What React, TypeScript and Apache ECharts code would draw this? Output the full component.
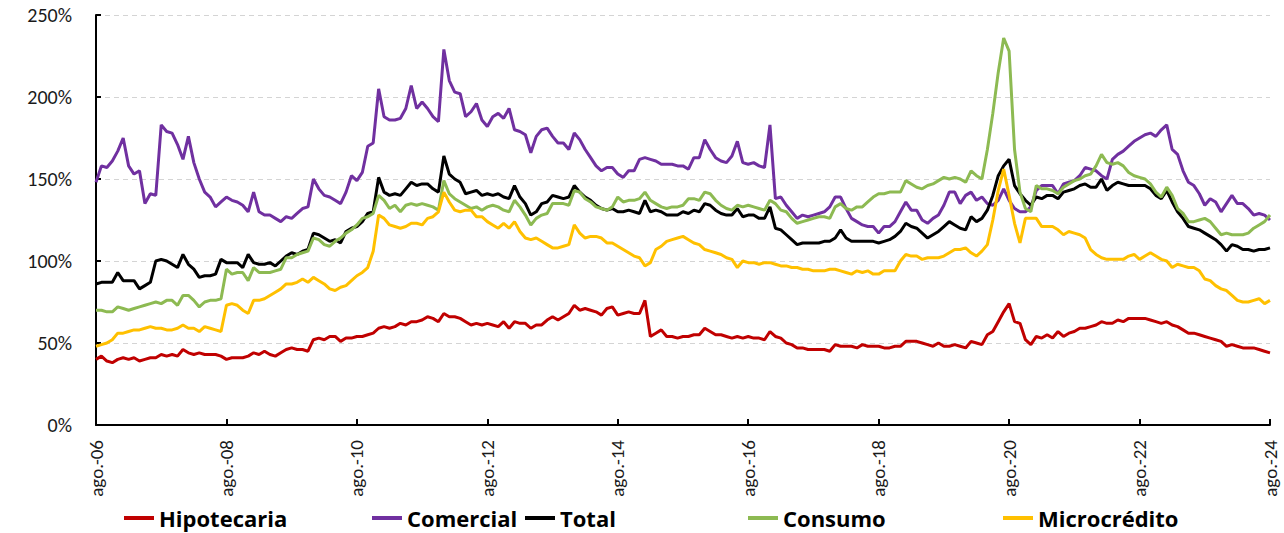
import React, { useEffect, useRef } from "react";
import * as echarts from "echarts";

const MONTHS = ["ene.", "feb.", "mar.", "abr.", "may.", "jun.", "jul.", "ago.", "sep.", "oct.", "nov.", "dic."];
const START_YEAR = 2006;
const START_MONTH = 7; // ago.
const N_MONTHS = 217;

const categories: string[] = [];
for (let i = 0; i < N_MONTHS; i++) {
  const m = (START_MONTH + i) % 12;
  const y = START_YEAR + Math.floor((START_MONTH + i) / 12);
  categories.push(`${MONTHS[m]}-${String(y % 100).padStart(2, "0")}`);
}

const seriesNames = ["Hipotecaria", "Comercial", "Total", "Consumo", "Microcrédito"];
const seriesColors = ["#C00000", "#7030A0", "#000000", "#8DBA52", "#FFC000"];

const hipotecaria = [
  40, 42, 39, 38, 40, 41, 40, 41, 39, 40, 41, 41, 43, 42, 43, 42, 46, 44, 43, 44, 43, 43, 43, 42, 40, 41, 41, 41, 42, 44, 43, 45, 43, 42, 44, 46,
  47, 46, 46, 45, 52, 53, 52, 54, 54, 51, 53, 53, 54, 54, 55, 56, 59, 60, 59, 60, 62, 61, 63, 63, 64, 66, 65, 63, 68, 66, 66, 65, 63, 61, 62,
  61, 62, 61, 60, 63, 59, 63, 62, 62, 59, 61, 61, 64, 66, 64, 66, 68, 73, 70, 71, 70, 69, 67, 71, 72, 67, 68, 69, 68, 68, 76, 54, 56, 58, 54,
  54, 53, 54, 54, 55, 55, 59, 57, 55, 55, 54, 53, 54, 53, 54, 53, 53, 52, 57, 54, 53, 50, 49, 47, 47, 46, 46, 46, 46, 45, 49, 48, 48, 48, 47,
  49, 48, 48, 48, 47, 47, 48, 48, 51, 51, 51, 50, 49, 48, 50, 48, 48, 49, 48, 47, 51, 50, 49, 55, 57, 63, 69, 74, 63, 62, 52, 49, 54, 53, 55,
  53, 57, 54, 56, 57, 59, 59, 60, 61, 63, 62, 62, 64, 63, 65, 65, 65, 65, 64, 63, 62, 63, 61, 60, 58, 56, 56, 55, 54, 53, 52, 51, 48, 49, 48, 47, 47, 47, 46, 45, 44,
];

const comercial = [
  148, 158, 157, 161, 167, 175, 158, 153, 155, 135, 141, 140, 183, 179, 178, 171, 162, 176, 160, 150, 142, 139, 133, 136, 139, 137, 136, 134, 130, 142, 130, 128, 128, 126, 124, 127,
  126, 129, 132, 133, 150, 144, 140, 139, 137, 135, 142, 152, 149, 154, 170, 172, 205, 188, 186, 186, 187, 193, 207, 193, 197, 193, 188, 185, 229, 210, 203, 202, 188, 191, 196,
  186, 182, 188, 190, 187, 193, 180, 179, 177, 166, 176, 180, 181, 176, 172, 172, 168, 178, 174, 168, 163, 158, 155, 157, 157, 153, 151, 155, 155, 162, 163, 162, 161, 159, 159,
  159, 158, 158, 156, 163, 163, 174, 168, 163, 161, 160, 164, 173, 160, 159, 160, 158, 157, 183, 138, 139, 134, 130, 126, 128, 127, 128, 129, 130, 133, 139, 139, 132, 126, 124,
  122, 121, 121, 117, 121, 121, 124, 130, 136, 131, 131, 125, 123, 126, 128, 134, 142, 142, 135, 140, 142, 137, 139, 135, 134, 137, 144, 137, 132, 130, 130, 133, 143, 146, 146,
  146, 141, 147, 148, 149, 152, 157, 156, 155, 152, 150, 162, 165, 167, 170, 173, 175, 177, 178, 176, 180, 183, 168, 165, 155, 148, 146, 141, 134, 138, 136, 130, 135, 140, 135, 135, 132, 128, 129, 128, 125,
];

const total = [
  86, 87, 87, 87, 93, 88, 88, 88, 83, 85, 87, 100, 101, 100, 98, 96, 104, 98, 95, 90, 91, 91, 92, 101, 99, 99, 99, 96, 104, 99, 98, 98, 99, 97, 100, 103,
  105, 104, 106, 107, 117, 116, 114, 112, 113, 111, 118, 120, 121, 124, 129, 130, 151, 142, 140, 141, 140, 144, 148, 146, 147, 147, 144, 142, 164, 153, 150, 148, 141, 142, 143,
  140, 141, 140, 141, 139, 138, 146, 139, 135, 128, 130, 135, 136, 140, 139, 138, 139, 146, 142, 139, 137, 134, 132, 131, 132, 130, 130, 131, 130, 129, 137, 130, 131, 130, 128,
  128, 128, 130, 129, 131, 130, 135, 134, 131, 129, 128, 128, 132, 127, 128, 128, 126, 126, 133, 120, 119, 116, 113, 110, 111, 111, 111, 111, 112, 112, 114, 119, 114, 112, 112,
  112, 112, 112, 111, 112, 113, 115, 118, 123, 121, 120, 117, 114, 116, 118, 121, 124, 122, 120, 119, 127, 124, 126, 131, 140, 152, 158, 162, 146, 141, 137, 134, 139, 138, 140,
  140, 138, 142, 143, 144, 146, 147, 145, 145, 150, 143, 146, 148, 147, 146, 146, 146, 146, 144, 140, 138, 143, 136, 130, 126, 121, 120, 119, 117, 115, 113, 110, 106, 110, 109, 107, 107, 106, 107, 107, 108,
];

const consumo = [
  70, 70, 69, 69, 72, 71, 70, 71, 72, 73, 74, 75, 74, 76, 76, 73, 79, 79, 76, 72, 75, 76, 76, 77, 95, 92, 93, 93, 88, 96, 93, 93, 93, 94, 95, 102,
  102, 104, 105, 106, 114, 113, 110, 109, 112, 114, 117, 119, 122, 126, 127, 129, 140, 137, 132, 134, 130, 134, 135, 134, 135, 134, 133, 131, 149, 141, 138, 136, 134, 132, 133,
  131, 133, 134, 133, 131, 130, 137, 133, 128, 122, 126, 128, 129, 135, 135, 135, 134, 143, 142, 138, 136, 133, 132, 131, 133, 139, 136, 137, 137, 138, 142, 137, 135, 133, 132,
  133, 133, 134, 138, 138, 137, 142, 141, 137, 134, 132, 131, 134, 133, 134, 133, 132, 131, 137, 135, 131, 130, 126, 123, 124, 125, 126, 127, 127, 126, 133, 135, 132, 131, 133,
  133, 136, 139, 141, 141, 142, 142, 142, 149, 147, 145, 144, 146, 147, 149, 151, 150, 151, 150, 148, 155, 152, 150, 168, 190, 215, 236, 228, 168, 142, 132, 130, 146, 144, 144,
  143, 141, 145, 147, 149, 150, 152, 153, 158, 165, 160, 159, 160, 158, 154, 152, 151, 150, 147, 142, 139, 145, 140, 132, 129, 124, 124, 125, 126, 124, 120, 116, 117, 116, 116, 116, 117, 120, 122, 124, 128,
];

const microcredito = [
  48, 49, 50, 52, 56, 56, 57, 58, 58, 59, 60, 59, 59, 58, 58, 59, 61, 59, 59, 57, 60, 59, 58, 57, 73, 74, 73, 70, 68, 76, 76, 77, 79, 81, 83, 86,
  86, 87, 89, 87, 90, 88, 86, 83, 82, 84, 85, 88, 91, 93, 96, 106, 128, 126, 122, 121, 120, 121, 123, 123, 122, 126, 127, 130, 142, 136, 131, 130, 131, 131, 127,
  127, 124, 122, 120, 123, 120, 124, 118, 114, 113, 114, 112, 110, 108, 108, 109, 110, 122, 117, 114, 115, 115, 114, 111, 111, 109, 107, 105, 103, 102, 97, 99, 107, 109, 112,
  113, 114, 115, 113, 111, 110, 107, 106, 105, 104, 102, 101, 96, 100, 99, 99, 98, 99, 99, 98, 97, 97, 96, 96, 95, 95, 94, 94, 94, 95, 95, 94, 93, 92, 94,
  93, 94, 92, 92, 94, 94, 94, 100, 104, 103, 103, 101, 102, 102, 102, 103, 105, 107, 107, 108, 105, 103, 106, 110, 125, 143, 156, 140, 123, 111, 126, 126, 126, 121, 121,
  121, 119, 116, 118, 117, 116, 114, 107, 104, 102, 101, 101, 101, 101, 103, 104, 101, 103, 105, 103, 101, 100, 96, 98, 97, 96, 96, 94, 89, 88, 85, 83, 82, 79, 76, 75, 75, 76, 77, 74, 76,
];

const seriesData = [hipotecaria, comercial, total, consumo, microcredito];
const legendLefts = [124, 372, 525, 748, 1003];

const AXIS_FONT = "Carlito, Lato, 'Open Sans', sans-serif";
const LEGEND_FONT = "'Open Sans', 'Noto Sans', sans-serif";

export default function App() {
  const ref = useRef<HTMLDivElement>(null);
  useEffect(() => {
    if (!ref.current) return;
    const chart = echarts.init(ref.current, undefined, { renderer: "svg" });
    chart.setOption({
      animation: false,
      backgroundColor: "#ffffff",
      grid: { left: 96, right: 14, top: 15, bottom: 108, containLabel: false },
      legend: seriesNames.map((name, k) => ({
        data: [name],
        left: legendLefts[k],
        top: 507,
        padding: 0,
        icon: "rect",
        itemWidth: 30,
        itemHeight: 4,
        selectedMode: false,
        textStyle: { fontFamily: LEGEND_FONT, fontWeight: "bold", fontSize: 22, color: "#000" },
      })),
      xAxis: {
        type: "category",
        data: categories,
        boundaryGap: false,
        axisLine: { lineStyle: { color: "#000", width: 2 } },
        axisTick: { inside: true, length: 6, interval: 23, lineStyle: { color: "#000", width: 2 } },
        axisLabel: {
          interval: 23,
          rotate: 90,
          margin: 15,
          padding: [10, 0, 0, 0],
          fontFamily: AXIS_FONT,
          fontSize: 19,
          color: "#1a1a1a",
        },
        splitLine: { show: false },
      },
      yAxis: {
        type: "value",
        min: 0,
        max: 250,
        interval: 50,
        axisLine: { show: true, lineStyle: { color: "#000", width: 2 } },
        axisTick: { show: true, inside: true, length: 5, lineStyle: { color: "#000", width: 2 } },
        axisLabel: {
          formatter: "{value}%",
          margin: 24,
          fontFamily: AXIS_FONT,
          fontSize: 20,
          color: "#1a1a1a",
        },
        splitLine: { show: true, lineStyle: { color: "#d4d4d4", width: 1, type: [5, 4] } },
      },
      series: seriesNames.map((name, k) => ({
        name,
        type: "line",
        data: seriesData[k],
        showSymbol: false,
        symbol: "none",
        color: seriesColors[k],
        lineStyle: { color: seriesColors[k], width: 3 },
        z: 2 + k,
      })),
    });
    return () => chart.dispose();
  }, []);
  return (
    <div
      ref={ref}
      style={{ position: "fixed", left: 0, top: 0, width: 1284, height: 533, background: "#fff" }}
    />
  );
}
